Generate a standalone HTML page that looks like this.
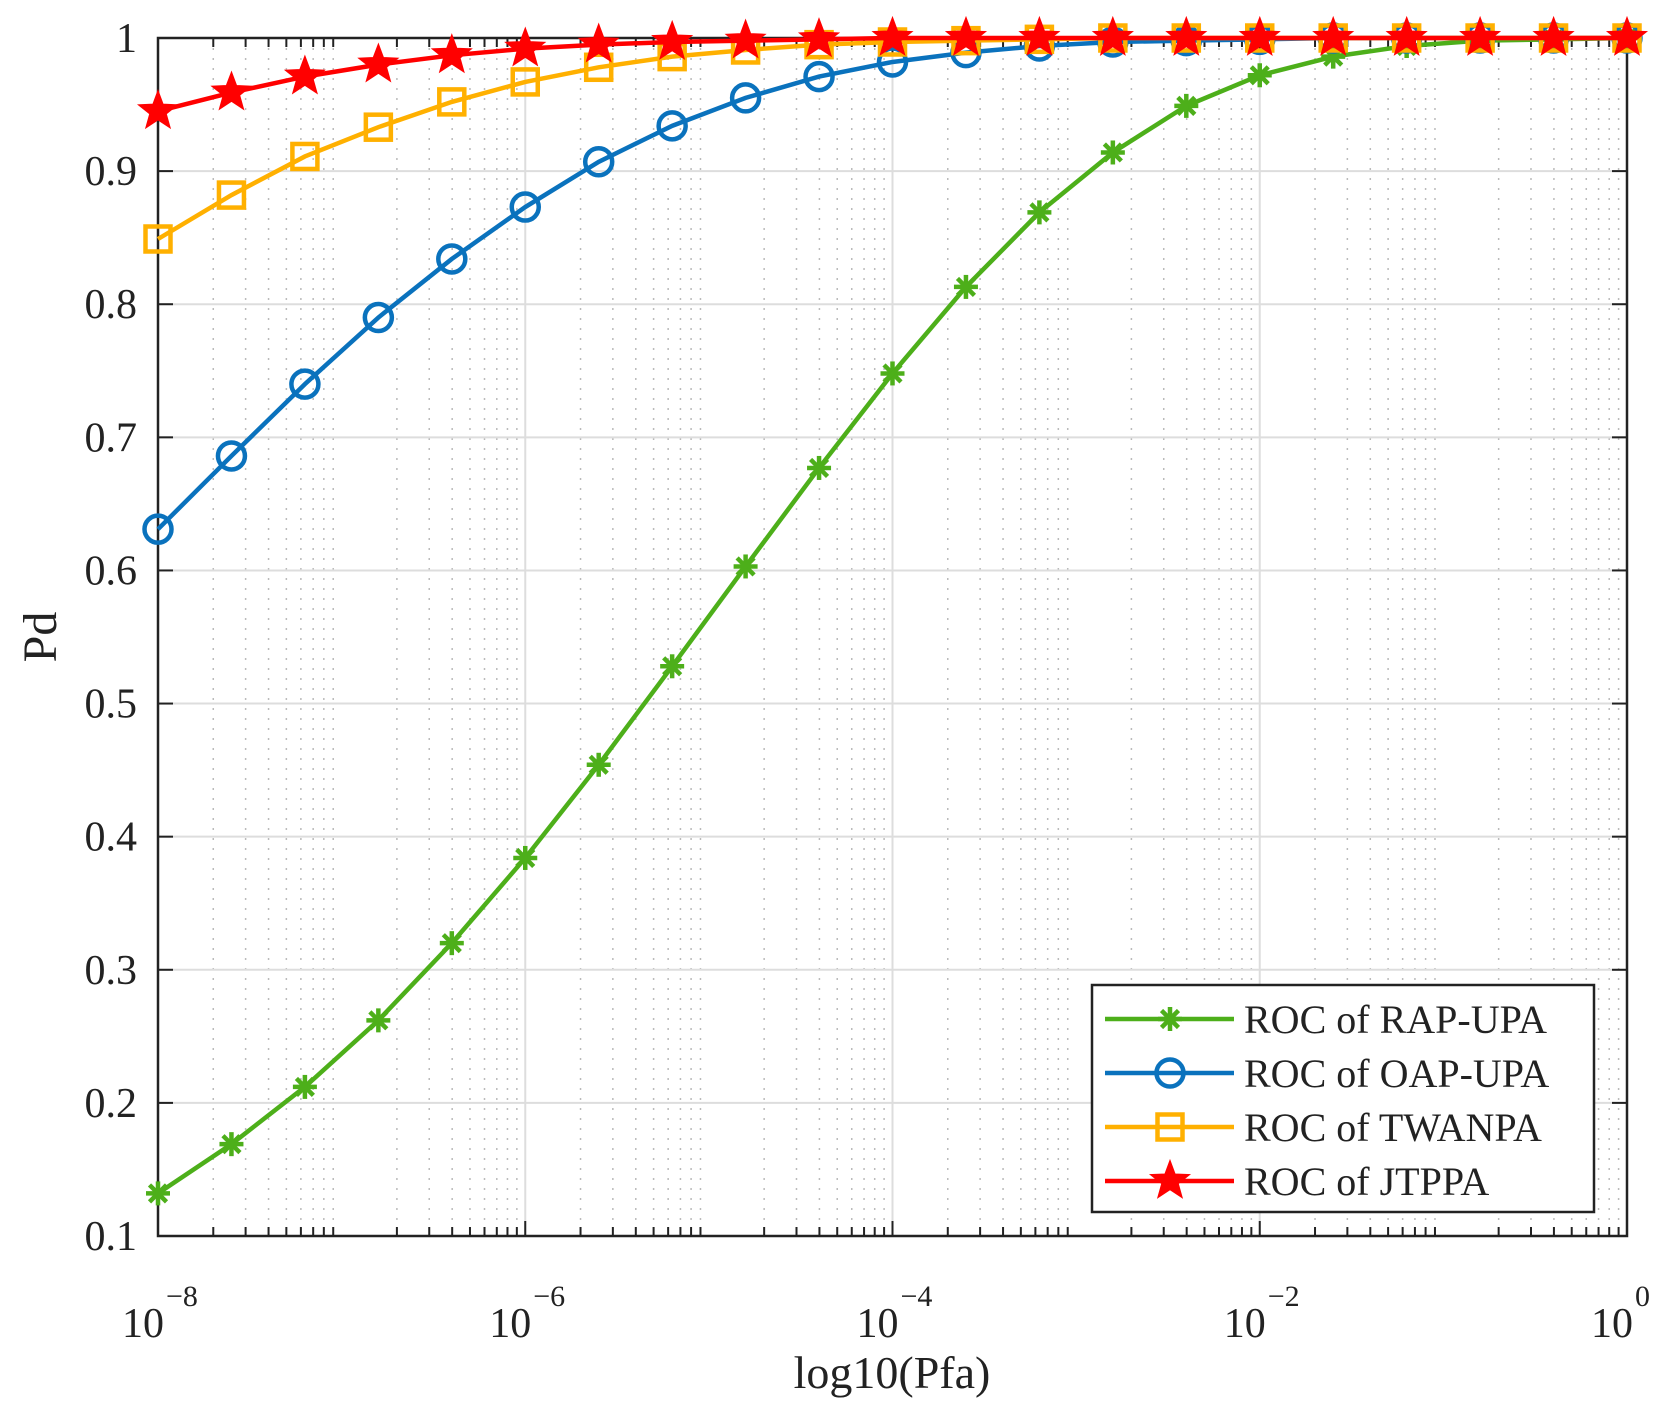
<!DOCTYPE html>
<html><head><meta charset="utf-8"><style>
html,body{margin:0;padding:0;background:#fff}
svg{display:block}
text{font-family:"Liberation Serif",serif;fill:#222}
</style></head><body>
<svg id="s" width="1671" height="1419" xmlns="http://www.w3.org/2000/svg"></svg>
<script>
const S=document.getElementById('s'),NS='http://www.w3.org/2000/svg';
function el(t,a,p){const e=document.createElementNS(NS,t);for(const k in a)e.setAttribute(k,a[k]);(p||S).appendChild(e);return e;}
const L=158,R=1627,T=38,B=1236;
const X=d=>L+(d+8)*(R-L)/8, Y=v=>B-(v-0.1)/0.9*(B-T);
for(let d=-8;d<0;d++)for(let k=2;k<=9;k++){const x=X(d+Math.log10(k));
 el('line',{x1:x,x2:x,y1:T,y2:B,stroke:'#bbb','stroke-width':1.5,'stroke-dasharray':'2 8'});
 el('line',{x1:x,x2:x,y1:B,y2:B-9,stroke:'#222','stroke-width':2});
 el('line',{x1:x,x2:x,y1:T,y2:T+9,stroke:'#222','stroke-width':2});}
for(let d=-6;d<0;d+=2){const x=X(d);el('line',{x1:x,x2:x,y1:T,y2:B,stroke:'#ddd','stroke-width':2});}
for(let i=2;i<10;i++){const y=Y(i/10);el('line',{x1:L,x2:R,y1:y,y2:y,stroke:'#ddd','stroke-width':2});}
for(let d=-8;d<=0;d+=2){const x=X(d);
 el('line',{x1:x,x2:x,y1:B,y2:B-15,stroke:'#222','stroke-width':2});
 el('line',{x1:x,x2:x,y1:T,y2:T+15,stroke:'#222','stroke-width':2});
 const t=el('text',{x:x+6,y:1337,'font-size':42,'text-anchor':'end'});t.textContent='10';
 const s=el('text',{x:x+8,y:1306,'font-size':30});s.textContent=d==0?'0':'\u2212'+(-d);}
for(let i=1;i<=10;i++){const y=Y(i/10);
 el('line',{x1:L,x2:L+15,y1:y,y2:y,stroke:'#222','stroke-width':2});
 el('line',{x1:R,x2:R-15,y1:y,y2:y,stroke:'#222','stroke-width':2});
 const t=el('text',{x:137,y:y+14,'font-size':42,'text-anchor':'end'});t.textContent=i==10?'1':(i/10).toFixed(1);}
el('rect',{x:L,y:T,width:R-L,height:B-T,fill:'none',stroke:'#222','stroke-width':2.5});
let t=el('text',{x:892,y:1388,'font-size':46,'text-anchor':'middle'});t.textContent='log10(Pfa)';
t=el('text',{x:0,y:0,'font-size':48,'text-anchor':'middle',transform:'translate(56,637) rotate(-90)'});t.textContent='Pd';
const G=[0.132,0.169,0.212,0.262,0.320,0.384,0.454,0.528,0.603,0.677,0.748,0.813,0.869,0.914,0.949,0.972,0.986,0.994,0.998,0.999,1];
const Bl=[0.631,0.686,0.740,0.790,0.834,0.873,0.907,0.934,0.955,0.971,0.982,0.989,0.994,0.997,0.998,0.999,1,1,1,1,1];
const O=[0.849,0.882,0.911,0.933,0.952,0.967,0.978,0.986,0.991,0.995,0.997,0.998,0.999,1,1,1,1,1,1,1,1];
const Rd=[0.945,0.959,0.971,0.980,0.987,0.992,0.995,0.997,0.998,0.999,1,1,1,1,1,1,1,1,1,1,1];
function star(x,y,r,c){let p=[];for(let i=0;i<10;i++){const a=-Math.PI/2+i*Math.PI/5,rr=i%2?r*0.42:r;p.push((x+rr*Math.cos(a)).toFixed(1)+','+(y+rr*Math.sin(a)).toFixed(1));}el('polygon',{points:p.join(' '),fill:c,stroke:c,'stroke-width':1.5});}
function mk(type,x,y,c){
 if(type=='a'){for(let k=0;k<4;k++){const a=k*Math.PI/4,r=12;el('line',{x1:x-r*Math.cos(a),y1:y-r*Math.sin(a),x2:x+r*Math.cos(a),y2:y+r*Math.sin(a),stroke:c,'stroke-width':4.5});}}
 else if(type=='o')el('circle',{cx:x,cy:y,r:13.5,fill:'none',stroke:c,'stroke-width':4.5});
 else if(type=='s')el('rect',{x:x-12.5,y:y-12.5,width:25,height:25,fill:'none',stroke:c,'stroke-width':4.5});
 else star(x,y,20,c);}
function series(v,c,type){const pts=v.map((a,i)=>[X(-8+0.4*i),Y(a)]);
 el('polyline',{points:pts.map(p=>p.join(',')).join(' '),fill:'none',stroke:c,'stroke-width':4.5});
 pts.forEach(p=>mk(type,p[0],p[1],c));}
series(G,'#4daf1a','a');series(Bl,'#0a72bd','o');series(O,'#ffb000','s');series(Rd,'#ff0000','*');
el('rect',{x:1092,y:985,width:502,height:227,fill:'#fff',stroke:'#222','stroke-width':2.5});
[['ROC of RAP-UPA','#4daf1a','a'],['ROC of OAP-UPA','#0a72bd','o'],['ROC of TWANPA','#ffb000','s'],['ROC of JTPPA','#ff0000','*']].forEach((e,i)=>{
 const y=1019+i*54;el('line',{x1:1105,x2:1234,y1:y,y2:y,stroke:e[1],'stroke-width':4.5});mk(e[2],1170,y,e[1]);
 const t=el('text',{x:1244,y:y+14,'font-size':40});t.textContent=e[0];});
</script>
</body></html>
